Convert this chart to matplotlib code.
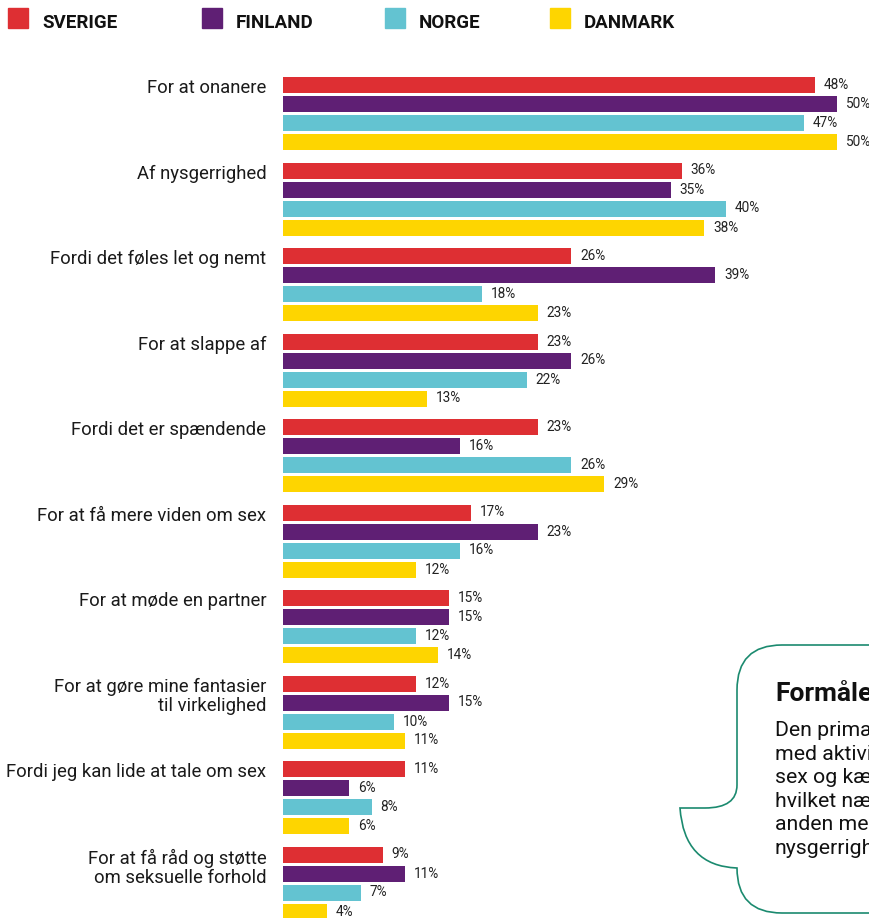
import matplotlib
matplotlib.use('Agg')
import matplotlib.pyplot as plt
from matplotlib.path import Path
from matplotlib.patches import PathPatch, Rectangle
import numpy as np

plt.rcParams['font.family'] = ['Roboto', 'DejaVu Sans']

# data
countries = ['SVERIGE', 'FINLAND', 'NORGE', 'DANMARK']
colors = ['#de2f33', '#5f1f74', '#63c3d1', '#fed500']
categories = [
    'For at onanere',
    'Af nysgerrighed',
    'Fordi det føles let og nemt',
    'For at slappe af',
    'Fordi det er spændende',
    'For at få mere viden om sex',
    'For at møde en partner',
    'For at gøre mine fantasier\ntil virkelighed',
    'Fordi jeg kan lide at tale om sex',
    'For at få råd og støtte\nom seksuelle forhold',
]
sverige = [48, 36, 26, 23, 23, 17, 15, 12, 11, 9]
finland = [50, 35, 39, 26, 16, 23, 15, 15, 6, 11]
norge = [47, 40, 18, 22, 26, 16, 12, 10, 8, 7]
danmark = [50, 38, 23, 13, 29, 12, 14, 11, 6, 4]
series = [sverige, finland, norge, danmark]

W, H = 870, 918
fig = plt.figure(figsize=(W / 100, H / 100), dpi=100)

# bar axes: one y unit = 19 px, first red bar centred at y=85 px
px_per_pct = 11.08
ax = fig.add_axes([283 / W, 0, (W - 283) / W, 1])
ax.set_xlim(0, (W - 283) / px_per_pct)
ax.set_ylim((H - 85) / 19, -85 / 19)
ax.axis('off')

group_step = 4.5
bar_h = 16 / 19
for j, (vals, c) in enumerate(zip(series, colors)):
    y = np.arange(len(categories)) * group_step + j
    ax.barh(y, vals, height=bar_h, color=c, left=0)
    for yy, v in zip(y, vals):
        ax.text(v + 0.8, yy, f'{v}%', va='center', ha='left', fontsize=9.8,
                color='#222222', clip_on=False)

for i, cat in enumerate(categories):
    ax.text(-1.5, i * group_step - 0.3, cat, ha='right', va='top', fontsize=13.3,
            color='#1a1a1a', linespacing=1.1, clip_on=False)

# overlay in pixel coordinates for legend and speech bubble
ov = fig.add_axes([0, 0, 1, 1], zorder=5)
ov.set_xlim(0, W)
ov.set_ylim(H, 0)
ov.axis('off')
ov.patch.set_alpha(0)

leg_x = [8, 202, 385, 550]
for x0, name, c in zip(leg_x, countries, colors):
    ov.add_patch(Rectangle((x0, 8), 20, 20, color=c))
    ov.text(x0 + 34, 23, name, fontsize=13.5, fontweight='bold', va='center', ha='left',
            color='#111111')

verts = [
    (900, 645), (782, 645),
    (737, 645), (737, 690),
    (737, 785),
    (737, 808), (705, 808),
    (680, 808),
    (684, 866), (737, 868),
    (737, 913), (782, 913),
    (900, 913),
]
codes = [Path.MOVETO, Path.LINETO,
         Path.CURVE3, Path.CURVE3,
         Path.LINETO,
         Path.CURVE3, Path.CURVE3,
         Path.LINETO,
         Path.CURVE3, Path.CURVE3,
         Path.CURVE3, Path.CURVE3,
         Path.LINETO]
ov.add_patch(PathPatch(Path(verts, codes), facecolor='white', edgecolor='#1b8a6f',
                       linewidth=1.2))

ov.text(775, 701, 'Formålet', fontsize=19, fontweight='bold', va='baseline', color='#111111')
body = ['Den primære', 'med aktiviteter', 'sex og kæreste', 'hvilket nævnes',
        'anden mest', 'nysgerrighed']
for k, line in enumerate(body):
    ov.text(775, 736 + k * 23.6, line, fontsize=15.3, va='baseline', color='#111111')

fig.savefig('out.png', dpi=100)
